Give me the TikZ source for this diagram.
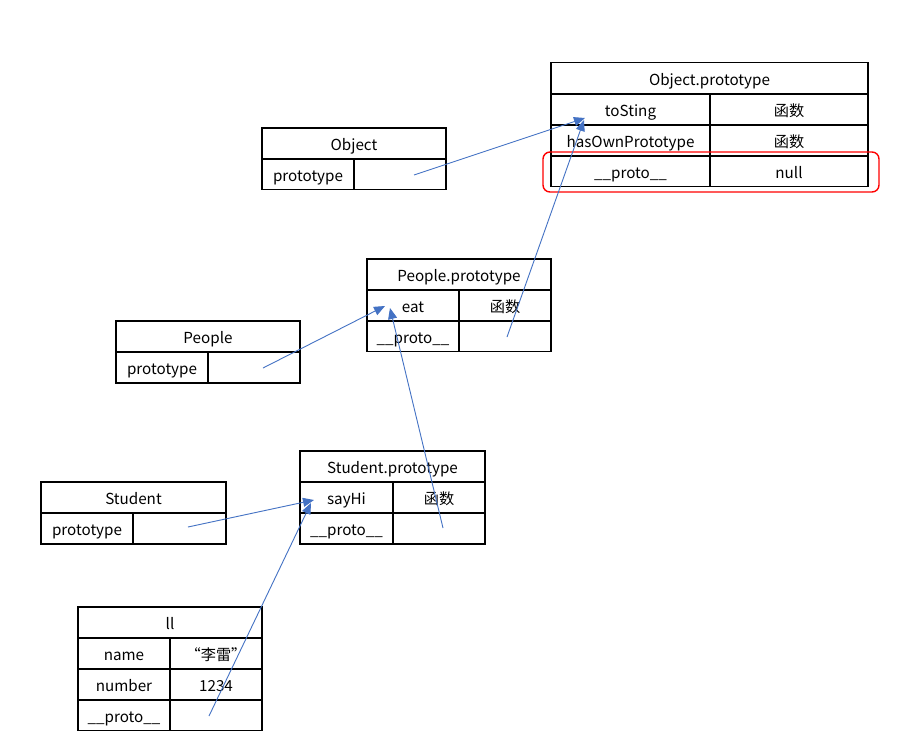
\documentclass[tikz,border=0pt]{standalone}
\usepackage{fontspec}
\setmainfont{Noto Sans CJK SC}
\usetikzlibrary{arrows.meta}
\definecolor{linkblue}{HTML}{4472C4}
\begin{document}
\begin{tikzpicture}[x=1pt,y=-1pt,
  cell/.style={draw=black, line width=1.3pt, inner sep=0pt, text height=14pt, text depth=0pt, font=\fontsize{15.2}{17}\selectfont},
  wide/.style={cell, minimum width=#1, minimum height=31pt},
  link/.style={draw=linkblue, line width=0.9pt, -{Triangle[length=11pt,width=9pt]}},
  hilite/.style={draw=red, line width=1.4pt, rounded corners=7pt, inner sep=0pt, minimum width=336pt, minimum height=40pt}]
\useasboundingbox[fill=white] (0,0) rectangle (905,740);

% Object.prototype
\node[wide=317pt] (opt) at (709.5,78) {Object.prototype};
\node[wide=159pt] (opa1) at (630.5,109.5) {toSting};
\node[wide=158pt] (opa2) at (789,109.5) {函数};
\node[wide=159pt] (opb1) at (630.5,140.5) {hasOwnPrototype};
\node[wide=158pt] (opb2) at (789,140.5) {函数};
\node[wide=159pt] (opc1) at (630.5,171) {\_\_proto\_\_};
\node[wide=158pt] (opc2) at (789,171) {null};
\node[hilite] (hl) at (711,172) {};

% Object
\node[wide=184pt] (ot) at (354,143.5) {Object};
\node[wide=92pt] (oa1) at (308,174) {prototype};
\node[wide=92pt] (oa2) at (400,174) {};

% People.prototype
\node[wide=184pt] (ppt) at (459,274.5) {People.prototype};
\node[wide=92pt] (ppa1) at (413,305.5) {eat};
\node[wide=92pt] (ppa2) at (505,305.5) {函数};
\node[wide=92pt] (ppb1) at (413,336) {\_\_proto\_\_};
\node[wide=92pt] (ppb2) at (505,336) {};

% People
\node[wide=184pt] (pt) at (208,336.5) {People};
\node[wide=92pt] (pa1) at (162,367.5) {prototype};
\node[wide=92pt] (pa2) at (254,367.5) {};

% Student.prototype
\node[wide=185pt] (spt) at (392.5,466.5) {Student.prototype};
\node[wide=93pt] (spa1) at (346.5,497.5) {sayHi};
\node[wide=92pt] (spa2) at (439,497.5) {函数};
\node[wide=93pt] (spb1) at (346.5,528.5) {\_\_proto\_\_};
\node[wide=92pt] (spb2) at (439,528.5) {};

% Student
\node[wide=185pt] (st) at (133.5,497.5) {Student};
\node[wide=92pt] (sa1) at (87,528.5) {prototype};
\node[wide=93pt] (sa2) at (179.5,528.5) {};

% ll
\node[wide=184pt] (lt) at (170,622.5) {ll};
\node[wide=92pt] (la1) at (124,653.5) {name};
\node[wide=92pt] (la2) at (216,653.5) {“李雷”};
\node[wide=92pt] (lb1) at (124,684.5) {number};
\node[wide=92pt] (lb2) at (216,684.5) {1234};
\node[wide=92pt] (lc1) at (124,715) {\_\_proto\_\_};
\node[wide=92pt] (lc2) at (216,715) {};

% link end points
\coordinate (oFrom) at (414,175);
\coordinate (opTip) at (585,118);
\coordinate (opTipB) at (584,120);
\coordinate (ppFrom) at (507,337);
\coordinate (pFrom) at (263,368);
\coordinate (ppTip) at (385,306);
\coordinate (ppTipB) at (390,308);
\coordinate (spFrom) at (443,528);
\coordinate (sFrom) at (188,527);
\coordinate (spTip) at (314,500);
\coordinate (spTipB) at (311,503);
\coordinate (lFrom) at (209,716);

\draw[link] (oFrom) -- (opTip);
\draw[link] (ppFrom) -- (opTipB);
\draw[link] (pFrom) -- (ppTip);
\draw[link] (spFrom) -- (ppTipB);
\draw[link] (sFrom) -- (spTip);
\draw[link] (lFrom) -- (spTipB);
\end{tikzpicture}
\end{document}
